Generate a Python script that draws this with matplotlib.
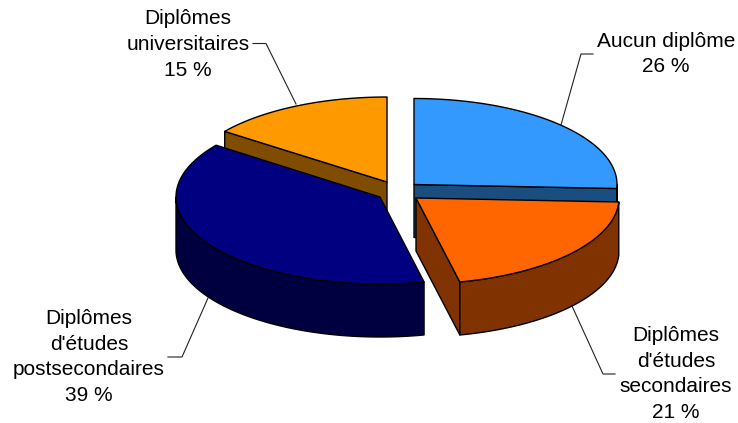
import numpy as np
import matplotlib
matplotlib.use("Agg")
import matplotlib.pyplot as plt
from matplotlib.patches import Polygon

plt.rcParams['font.family'] = ['Liberation Sans', 'DejaVu Sans']

# Data
categories = ["Aucun diplôme", "Diplômes\nd'études\nsecondaires",
              "Diplômes\nd'études\npostsecondaires", "Diplômes\nuniversitaires"]
values = [26, 21, 39, 15]

# Style
top_colors = ["#3399FF", "#FF6600", "#000080", "#FF9900"]
wall_colors = ["#1A4D80", "#803300", "#000040", "#804D00"]
centers = [(414, 184.5), (416, 198), (380, 197), (387, 182)]
rx = [203, 203, 204, 202]
ry = [86, 86, 87, 85]
depth = 53
draw_order = [3, 0, 2, 1]
label_pos = [(666, 54), (676, 374), (89, 357), (188, 44.5)]
leaders = [[(561, 125), (581, 54), (593, 54)],
           [(572, 306), (603, 374), (615, 374)],
           [(208, 298), (182, 357), (168, 357)],
           [(296, 104), (266, 43.5), (253, 43.5)]]

fig = plt.figure(figsize=(7.38, 4.23), dpi=100)
ax = fig.add_axes([0, 0, 1, 1])
ax.set_xlim(0, 738)
ax.set_ylim(423, 0)
ax.axis('off')

total = sum(values)
cum = np.cumsum([0] + values) / total * 360


def pts(i, a, b, n=200):
    t = np.radians(np.linspace(a, b, n))
    cx, cy = centers[i]
    return np.column_stack([cx + rx[i] * np.sin(t), cy - ry[i] * np.cos(t)])


for line in leaders:
    xs, ys = zip(*line)
    ax.plot(xs, ys, color='#222222', lw=0.8, zorder=1)

for i in draw_order:
    a = cum[i]
    b = cum[i + 1]
    cx, cy = centers[i]
    edge = dict(edgecolor='black', lw=1.0, joinstyle='round', zorder=2)
    # cut face turned towards the viewer
    ang = a if i == 3 else b
    if i != 2:
        p = pts(i, ang, ang, 1)[0]
        face = [(cx, cy), tuple(p), (p[0], p[1] + depth), (cx, cy + depth)]
        ax.add_patch(Polygon(face, closed=True, facecolor=wall_colors[i], **edge))
    # outer wall
    lo, hi = max(a, 90), min(b, 270)
    if hi > lo:
        arc = pts(i, lo, hi)
        wall = np.vstack([arc, (arc + [0, depth])[::-1]])
        ax.add_patch(Polygon(wall, closed=True, facecolor=wall_colors[i], **edge))
    # top
    top = np.vstack([[(cx, cy)], pts(i, a, b)])
    ax.add_patch(Polygon(top, closed=True, facecolor=top_colors[i], **edge))

for i, name in enumerate(categories):
    x, y = label_pos[i]
    ax.text(x, y, f"{name}\n{values[i]} %", ha='center', va='center',
            fontsize=15, linespacing=1.44, color='black', zorder=3)

fig.savefig("out.png", dpi=100, facecolor='white')
